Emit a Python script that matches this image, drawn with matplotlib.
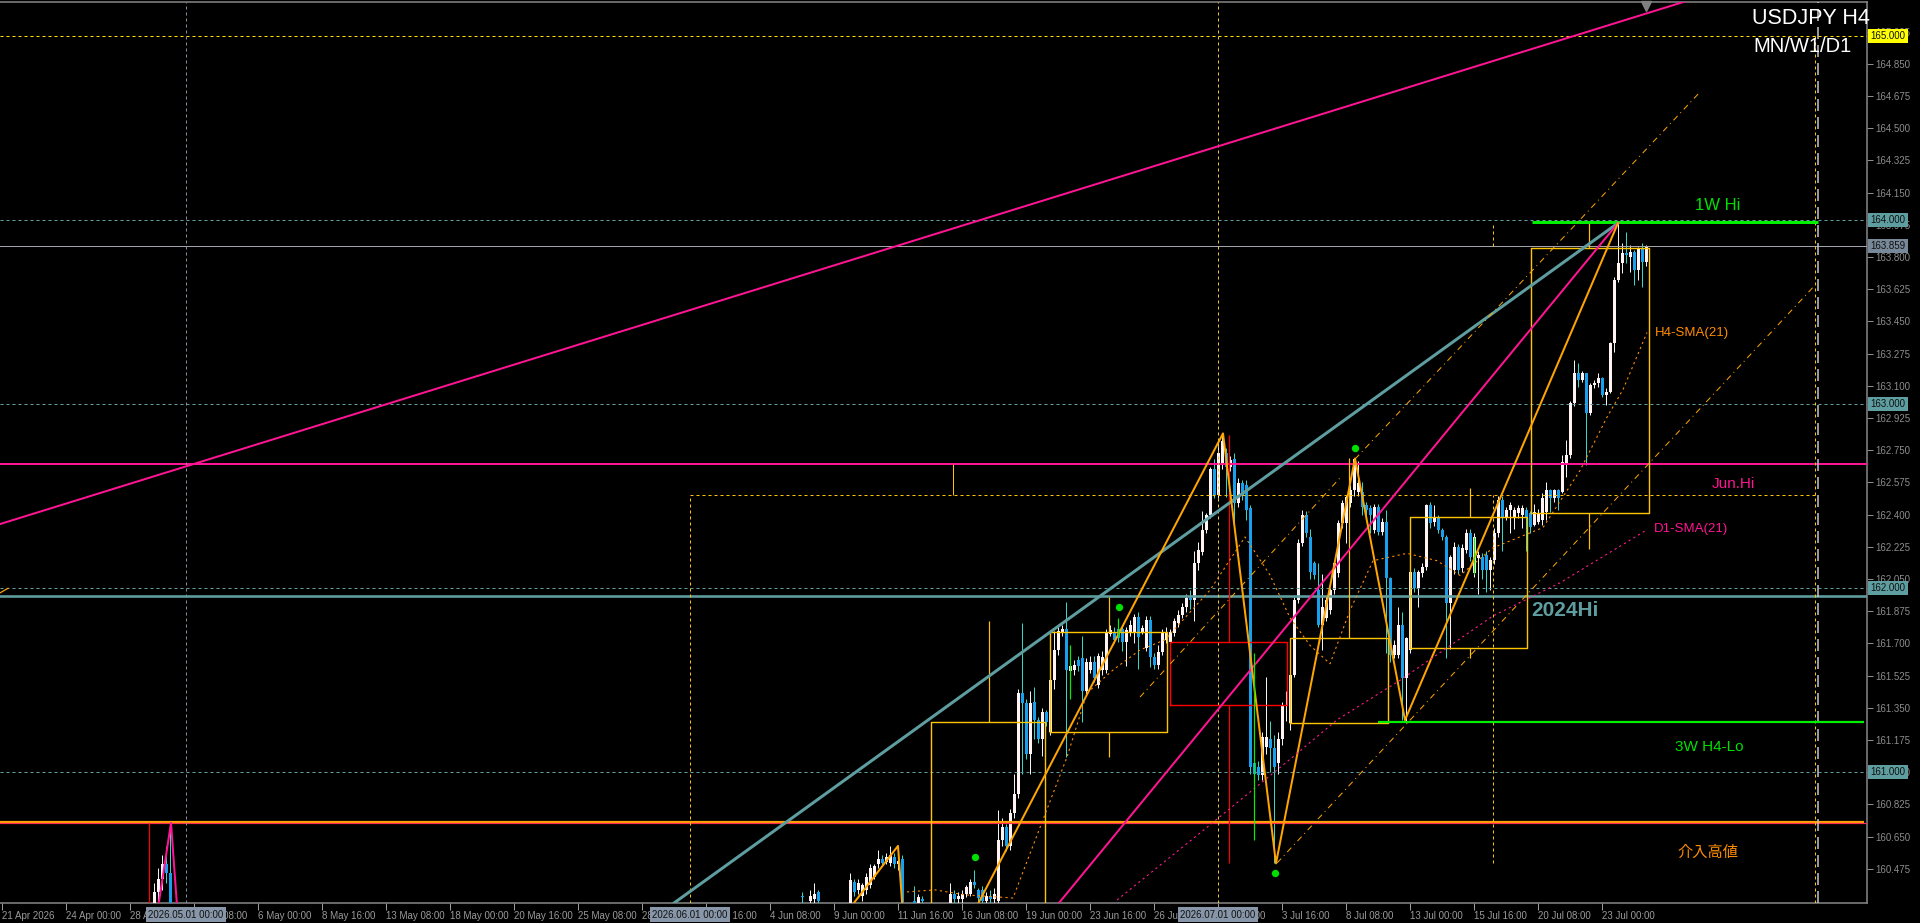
import numpy as np
import matplotlib
matplotlib.use("Agg")
import matplotlib.pyplot as plt
from matplotlib import font_manager

nan = np.nan

# ---------------------------------------------------------------- data
TITLE = "USDJPY H4"
SUBTITLE = "MN/W1/D1"

# H4 candles. bar index 0 = 2026-04-21 00:00; NaN = bar outside the visible price range
spike_start = 40
spike_open = [160.20, 160.35, 160.42, 160.50, 160.45]
spike_high = [160.40, 160.48, 160.55, 160.60, 160.725]
spike_low = [160.10, 160.28, 160.36, 160.40, 160.00]
spike_close = [160.35, 160.42, 160.50, 160.45, 160.10]

main_start = 202
main_open = [
    160.33, nan, 160.30, 160.31, 160.35, nan, nan, nan, nan, nan,                       # 202
    nan, nan, 160.28, 160.405, 160.36, 160.325, 160.36, 160.39, 160.43, 160.50,          # 212
    160.53, 160.515, 160.505, 160.54, 160.50, 160.53, nan, nan, 160.30, 160.29,          # 222
    160.31, nan, nan, nan, nan, nan, nan, 160.29, 160.34, 160.31,                        # 232
    160.31, 160.34, 160.34, 160.405, 160.36, 160.36, 160.30, 160.33, 160.31, 160.30,     # 242
    160.63, 160.70, 160.60, 160.78, 160.88, 161.43, 161.375, 161.10, 161.38, 161.285,    # 252
    161.18, 161.33, 161.22, 161.50, 161.665, 161.765, 161.78, 161.55, 161.556, 161.61,   # 262
    161.62, 161.44, 161.556, 161.60, 161.475, 161.556, 161.556, 161.75, 161.755, 161.78, # 272
    161.78, 161.71, 161.764, 161.764, 161.846, 161.764, 161.674, 161.83, 161.628, 161.583,  # 282
    161.656, 161.72, 161.71, 161.755, 161.81, 161.855, 161.90, 161.945, 161.936, 162.136,   # 292
    162.199, 162.317, 162.398, 162.647, 162.507, 162.679, 162.734, 162.661, 162.70, 162.462, # 302
    162.571, 162.562, 162.435, 161.05, 161.03, 160.985, 161.14, 161.18, 161.13, 161.05,     # 312
    161.18, 161.36, 161.27, 161.53, 161.936, 162.245, 162.398, 162.281, 162.136, 161.991,   # 322
    161.80, 161.837, 161.882, 161.991, 162.081, 162.353, 162.353, 162.462, 162.534, 162.525, # 332
    162.525, 162.453, 162.435, 162.317, 162.444, 162.308, 162.362, 162.054, 161.638, 161.638, # 342
    161.80, 161.511, 161.665, 162.091, 161.999, 162.081, 162.118, 162.453, 162.362, 162.38,  # 352
    162.317, 162.281, 161.918, 162.10, 162.226, 162.109, 162.208, 162.299, 162.081, 162.163, # 362
    162.172, 162.181, 162.10, 162.154, 162.299, 162.48, 162.389, 162.426, 162.389, 162.407,  # 372
    162.398, 162.426, 162.407, 162.344, 162.362, 162.37, 162.416, 162.534, 162.489, 162.534, # 382
    162.525, 162.68, 162.725, 163.005, 163.168, 163.132, 163.168, 162.951, 163.105, 163.114, # 392
    163.141, 163.05, 163.069, 163.331, 163.676, 163.766, 163.82, 163.803, 163.83, 163.73,    # 402
    163.848, 163.775,                                                                        # 412
]
main_high = [
    160.35, nan, 160.36, 160.40, 160.36, nan, nan, nan, nan, nan,
    nan, nan, 160.45, 160.42, 160.42, 160.40, 160.45, 160.50, 160.50, 160.58,
    160.55, 160.56, 160.60, 160.56, 160.60, 160.55, nan, nan, 160.38, 160.34,
    160.33, nan, nan, nan, nan, nan, nan, 160.40, 160.36, 160.35,
    160.36, 160.39, 160.42, 160.47, 160.37, 160.38, 160.35, 160.36, 160.37, 160.795,
    160.75, 160.72, 160.80, 160.99, 161.45, 161.81, 161.40, 161.44, 161.465, 161.30,
    161.35, 161.34, 161.52, 161.77, 161.79, 161.80, 161.927, 161.60, 161.61, 161.63,
    161.74, 161.62, 161.63, 161.63, 161.65, 161.66, 161.78, 161.80, 161.79, 161.82,
    161.80, 161.79, 161.83, 161.86, 161.87, 161.80, 161.85, 161.85, 161.65, 161.69,
    161.78, 161.79, 161.78, 161.84, 161.88, 161.92, 161.97, 161.99, 162.20, 162.25,
    162.42, 162.41, 162.66, 162.70, 162.80, 162.842, 162.76, 162.72, 162.734, 162.60,
    162.59, 162.59, 162.45, 161.10, 161.06, 161.22, 161.52, 161.28, 161.20, 161.22,
    161.38, 161.44, 161.54, 161.955, 162.27, 162.426, 162.42, 162.32, 162.15, 162.136,
    162.08, 161.96, 162.00, 162.15, 162.37, 162.48, 162.507, 162.56, 162.706, 162.69,
    162.58, 162.47, 162.45, 162.46, 162.46, 162.38, 162.426, 162.06, 161.72, 161.90,
    161.87, 161.737, 162.10, 162.11, 162.10, 162.14, 162.46, 162.47, 162.45, 162.40,
    162.33, 162.29, 162.18, 162.25, 162.24, 162.24, 162.32, 162.32, 162.30, 162.20,
    162.19, 162.20, 162.17, 162.33, 162.50, 162.50, 162.44, 162.47, 162.44, 162.45,
    162.45, 162.44, 162.42, 162.46, 162.43, 162.516, 162.58, 162.54, 162.54, 162.54,
    162.725, 162.806, 163.02, 163.24, 163.223, 163.18, 163.168, 163.114, 163.13, 163.168,
    163.15, 163.087, 163.34, 163.694, 163.985, 163.875, 163.938, 163.866, 163.84, 163.857,
    163.875, 163.866,
]
main_low = [
    160.25, nan, 160.25, 160.26, 160.22, nan, nan, nan, nan, nan,
    nan, nan, 160.25, 160.33, 160.34, 160.30, 160.34, 160.37, 160.42, 160.48,
    160.49, 160.50, 160.49, 160.48, 160.47, 160.20, nan, nan, 160.20, 160.25,
    160.26, nan, nan, nan, nan, nan, nan, 160.25, 160.27, 160.28,
    160.28, 160.32, 160.33, 160.37, 160.28, 160.27, 160.28, 160.28, 160.29, 160.28,
    160.60, 160.57, 160.58, 160.75, 160.86, 160.99, 161.07, 160.99, 161.18, 161.16,
    161.09, 161.25, 161.20, 161.45, 161.64, 161.74, 161.085, 161.52, 161.53, 161.55,
    161.275, 161.42, 161.54, 161.49, 161.46, 161.53, 161.54, 161.74, 161.70, 161.71,
    161.66, 161.58, 161.74, 161.70, 161.56, 161.75, 161.66, 161.57, 161.56, 161.56,
    161.64, 161.70, 161.69, 161.74, 161.79, 161.84, 161.87, 161.89, 161.82, 162.10,
    162.18, 162.30, 162.38, 162.49, 162.49, 162.65, 162.498, 162.64, 162.353, 162.44,
    162.48, 162.371, 160.99, 160.95, 160.96, 160.96, 161.10, 161.00, 160.505, 160.99,
    161.15, 161.28, 161.23, 161.52, 161.92, 162.23, 162.28, 162.05, 162.05, 161.79,
    161.665, 161.82, 161.86, 161.97, 162.06, 162.33, 162.245, 162.44, 162.50, 162.50,
    162.40, 162.38, 162.30, 162.30, 162.29, 162.29, 161.65, 161.60, 161.62, 161.62,
    161.284, 161.28, 161.65, 161.98, 161.90, 162.06, 162.10, 162.33, 162.34, 162.30,
    162.26, 161.62, 161.67, 162.08, 162.08, 162.09, 162.19, 162.15, 162.06, 161.97,
    162.05, 161.98, 161.99, 162.13, 162.28, 162.20, 162.37, 162.30, 162.32, 162.38,
    162.33, 162.20, 162.30, 162.34, 162.35, 162.344, 162.37, 162.416, 162.47, 162.425,
    162.52, 162.607, 162.71, 162.99, 163.096, 163.12, 162.67, 162.942, 163.09, 163.096,
    163.04, 162.996, 163.06, 163.286, 163.667, 163.712, 163.766, 163.721, 163.65, 163.676,
    163.64, 163.75,
]
main_close = [
    160.32, nan, 160.33, 160.34, 160.30, nan, nan, nan, nan, nan,
    nan, nan, 160.415, 160.35, 160.40, 160.39, 160.43, 160.48, 160.49, 160.53,
    160.505, 160.54, 160.55, 160.50, 160.52, 160.25, nan, nan, 160.28, 160.32,
    160.30, nan, nan, nan, nan, nan, nan, 160.34, 160.31, 160.33,
    160.34, 160.375, 160.405, 160.385, 160.315, 160.30, 160.33, 160.31, 160.34, 160.63,
    160.70, 160.60, 160.78, 160.88, 161.43, 161.375, 161.10, 161.375, 161.285, 161.18,
    161.33, 161.275, 161.50, 161.665, 161.77, 161.78, 161.556, 161.58, 161.583, 161.575,
    161.44, 161.60, 161.60, 161.51, 161.63, 161.628, 161.755, 161.773, 161.72, 161.73,
    161.71, 161.773, 161.80, 161.846, 161.737, 161.782, 161.828, 161.628, 161.583, 161.656,
    161.755, 161.755, 161.76, 161.82, 161.855, 161.90, 161.945, 161.936, 162.136, 162.208,
    162.317, 162.398, 162.647, 162.507, 162.734, 162.80, 162.661, 162.697, 162.462, 162.571,
    162.507, 162.426, 161.03, 160.99, 160.985, 161.19, 161.19, 161.13, 161.03, 161.18,
    161.36, 161.365, 161.53, 161.936, 162.245, 162.398, 162.299, 162.09, 162.072, 161.80,
    161.90, 161.936, 161.991, 162.136, 162.353, 162.462, 162.498, 162.534, 162.70, 162.571,
    162.444, 162.426, 162.398, 162.444, 162.308, 162.362, 162.054, 161.638, 161.692, 161.80,
    161.511, 161.728, 162.091, 161.999, 162.091, 162.118, 162.453, 162.353, 162.389, 162.317,
    162.281, 161.918, 162.172, 162.226, 162.10, 162.217, 162.299, 162.172, 162.281, 162.181,
    162.10, 162.10, 162.154, 162.299, 162.48, 162.389, 162.426, 162.453, 162.426, 162.435,
    162.435, 162.389, 162.335, 162.416, 162.408, 162.489, 162.534, 162.489, 162.534, 162.489,
    162.688, 162.725, 163.005, 163.168, 163.132, 163.168, 162.951, 163.105, 163.114, 163.141,
    163.05, 163.069, 163.331, 163.676, 163.766, 163.82, 163.811, 163.83, 163.73, 163.848,
    163.775, 163.859,
]

# indicator lines (bar index, price)
h4_sma_idx = [228.25, 235.25, 242.75, 254.75, 268.25, 273.25, 279.75, 286.5, 292.75, 304, 312.75,
              319, 324, 329, 334, 339, 344.75, 353.25, 360.75, 366.5, 374.75, 387.25, 396.5,
              403.25, 407.25, 413.25]
h4_sma_val = [160.350, 160.361, 160.334, 160.317, 161.083, 161.431, 161.556, 161.665, 161.72,
              161.99, 162.279, 162.072, 161.84, 161.69, 161.59, 161.88, 162.15, 162.19, 162.15,
              162.07, 162.22, 162.33, 162.64, 162.93, 163.08, 163.39]
d1_sma_idx = [280.75, 301.5, 324.75, 335.75, 351.5, 374.75, 391.5, 413.25]
d1_sma_val = [160.306, 160.67, 161.084, 161.285, 161.50, 161.85, 162.03, 162.318]

zigzag_idx = [210, 226, 228, 246, 307.25, 320.5, 340.25, 352.75, 406]
zigzag_val = [160.15, 160.60, 160.00, 160.285, 162.842, 160.505, 162.706, 161.284, 163.985]
pink_zig_idx = [40, 44.25, 47]
pink_zig_val = [160.12, 160.725, 159.90]

# trend lines: (idx0, price0, idx1, price1)
pink_long_line = (0, 162.339, 430, 165.238)
teal_trend_line = (160, 160.133, 406, 163.985)
pink_trend_line = (260, 160.125, 406, 163.985)
channel_lines = [(340.25, 162.702, 426.5, 164.697),
                 (320.75, 160.507, 456, 163.665),
                 (286.5, 161.409, 336.5, 162.60)]

# weekly candles drawn as boxes: left, right, open, close, high, low, wick idx
week_left = [234.25, 264, 294, 324, 354, 384.25]
week_right = [262.75, 293.25, 323.25, 348.5, 383.25, 413.75]
week_open = [159.95, 161.22, 161.71, 161.268, 161.676, 162.41]
week_close = [161.273, 161.763, 161.368, 161.73, 162.388, 163.849]
week_high = [161.822, 161.953, 162.834, 162.708, 162.545, 163.985]
week_low = [159.80, 161.084, 160.507, 161.268, 161.622, 162.214]
week_wick = [248.75, 278.75, 308.75, 338.75, 369, 398.75]

# green marks
green_tick_idx = [269, 281, 315, 370]
green_tick_lo = [161.40, 161.737, 160.632, 162.08]
green_tick_hi = [161.69, 161.84, 161.646, 162.28]
green_dot_idx = [245.25, 281.25, 320.25, 340.25]
green_dot_val = [160.541, 161.90, 160.451, 162.76]

# horizontal levels
LVL_165 = 165.000
ROUND_LEVELS = [164.0, 163.0, 162.0, 161.0]
BID = 163.859
HI_1W = 163.99
JUN_HI = 162.675
HI_2024 = 161.96
LO_3W = 161.275
INTERVENTION = 160.731
INTERVENTION_2 = 160.722
JUN_CLOSE = 162.507
JUL_HIGH = 163.985
JUL_LOW = 160.505

# time axis
time_tick_idx = [2, 18, 34, 50, 66, 82, 98, 114, 130, 146, 162, 178, 194, 210, 226, 242,
                 258, 274, 290, 306, 322, 338, 354, 370, 386, 402]
time_tick_labels = ["21 Apr 2026", "24 Apr 00:00", "28 Apr 16:00", "1 May 08:00", "6 May 00:00",
                    "8 May 16:00", "13 May 08:00", "18 May 00:00", "20 May 16:00", "25 May 08:00",
                    "28 May 00:00", "1 Jun 16:00", "4 Jun 08:00", "9 Jun 00:00", "11 Jun 16:00",
                    "16 Jun 08:00", "19 Jun 00:00", "23 Jun 16:00", "26 Jun 08:00", "1 Jul 00:00",
                    "3 Jul 16:00", "8 Jul 08:00", "13 Jul 00:00", "15 Jul 16:00", "20 Jul 08:00",
                    "23 Jul 00:00"]
month_idx = [48, 174, 306]
month_text = ["2026.05.01 00:00", "2026.06.01 00:00", "2026.07.01 00:00"]
month_end_idx = 455.25
next_month_idx = 456

price_ticks = [165.025, 164.850, 164.675, 164.500, 164.325, 164.150, 163.975, 163.800, 163.625,
               163.450, 163.275, 163.100, 162.925, 162.750, 162.575, 162.400, 162.225, 162.050,
               161.875, 161.700, 161.525, 161.350, 161.175, 161.000, 160.825, 160.650, 160.475]
marker_prices = [165.000, 164.000, 163.859, 163.000, 162.000, 161.000]
marker_colors = ["#FFFF00", "#5F9EA0", "#778899", "#5F9EA0", "#5F9EA0", "#5F9EA0"]

# ---------------------------------------------------------------- style
PX = 0.72  # points per pixel at 100 dpi
names = {f.name for f in font_manager.fontManager.ttflist}
SANS = ["Liberation Sans", "DejaVu Sans"]
NARROW = ["Liberation Sans Narrow", "Liberation Sans", "DejaVu Sans"] if "Liberation Sans Narrow" in names else SANS
NARROW_SIZE = 7.6 if "Liberation Sans Narrow" in names else 7.0
CJK = ["Noto Sans CJK JP", "DejaVu Sans"]

BULL_BODY, BULL_WICK = "#FFF3F3", "#F2F2F2"
BEAR_BODY, BEAR_WICK = "#16A0EE", "#35D8C8"
ORANGE, GOLD, PINK, TEAL = "#FFA500", "#FFC400", "#FF1493", "#5F9EA0"
LIME, YELLOW, AXIS_GRAY = "#00F000", "#FFE000", "#8A8A8A"

fig = plt.figure(figsize=(19.2, 9.23), dpi=100, facecolor="black")
ax = fig.add_axes([0, 20 / 923, 1867 / 1920, 901 / 923])
ax.set_facecolor("black")
XMIN, XMAX = 1.5, 468.25
YMIN, YMAX = 160.28967, 165.18641
ax.set_xlim(XMIN, XMAX)
ax.set_ylim(YMIN, YMAX)


def seg(x0, y0, x1, y1, **kw):
    ax.plot([x0, x1], [y0, y1], **kw)


# ----- horizontal levels
ax.axhline(LVL_165, color=YELLOW, lw=PX, ls=(0, (3, 3)), zorder=4)
for lv in ROUND_LEVELS:
    ax.axhline(lv, color=TEAL, lw=PX, ls=(0, (3, 3)), zorder=4)
ax.axhline(BID, color="#A3A3AC", lw=PX, zorder=4)
ax.axhline(JUN_HI, color=PINK, lw=2 * PX, zorder=4)
ax.axhline(HI_2024, color=TEAL, lw=2.6 * PX, zorder=4)
ax.hlines(INTERVENTION, XMIN, 467.5, color=ORANGE, lw=2.2 * PX, zorder=4)
ax.axhline(INTERVENTION_2, color="#FF2A55", lw=1.2 * PX, zorder=4)
ax.hlines(HI_1W, 384.5, next_month_idx, color=LIME, lw=3 * PX, zorder=5)
ax.hlines(LO_3W, 346, 467.5, color=LIME, lw=2.2 * PX, zorder=5)

# ----- monthly candle / separators
ax.axvline(month_idx[0], color="#8090A0", lw=PX, ls=(0, (3, 3)), zorder=4)
ax.axvline(month_idx[2], color="#E8C840", lw=PX, ls=(0, (3, 3)), zorder=4)
ax.vlines(month_idx[1], YMIN, JUN_CLOSE, color=GOLD, lw=PX, ls=(0, (3, 3)), zorder=4)
ax.hlines(JUN_CLOSE, month_idx[1], month_end_idx + 0.5, color=GOLD, lw=PX, ls=(0, (3, 3)), zorder=4)
ax.vlines(239.75, JUN_CLOSE, JUN_HI, color=GOLD, lw=PX, zorder=4)
ax.vlines(374.75, BID, JUL_HIGH, color=GOLD, lw=PX, ls=(0, (3, 3)), zorder=4)
ax.vlines(374.75, JUL_LOW, JUN_CLOSE, color=GOLD, lw=PX, ls=(0, (3, 3)), zorder=4)
ax.vlines(month_end_idx, YMIN, LVL_165, color=GOLD, lw=PX, ls=(0, (3, 3)), zorder=4)
ax.axvline(next_month_idx, color="#C8C8C8", lw=1.5 * PX, ls=(0, (8, 4)), zorder=4)

# ----- weekly boxes
for i in range(len(week_left)):
    bear = week_close[i] < week_open[i]
    col = "#FF0000" if bear else GOLD
    top, bot = max(week_open[i], week_close[i]), min(week_open[i], week_close[i])
    L, R = week_left[i], week_right[i]
    ax.plot([L, R, R, L, L], [bot, bot, top, top, bot], color=col, lw=1.4 * PX, zorder=4)
    ax.vlines(week_wick[i], top, week_high[i], color=col, lw=1.2 * PX, zorder=4)
    ax.vlines(week_wick[i], week_low[i], bot, color=col, lw=1.2 * PX, zorder=4)
ax.vlines(38.75, YMIN, 160.725, color="#FF0000", lw=1.2 * PX, zorder=4)


# ----- candles
def draw_candles(start, o, h, l, c):
    o, h, l, c = (np.array(v, dtype=float) for v in (o, h, l, c))
    idx = start + np.arange(len(o))
    valid = ~np.isnan(o)
    up = valid & (c >= o)
    dn = valid & (c < o)
    ax.vlines(idx[up], l[up], h[up], color=BULL_WICK, lw=PX, zorder=3)
    ax.vlines(idx[dn], l[dn], h[dn], color=BEAR_WICK, lw=PX, zorder=3)
    bot = np.minimum(o, c)
    hgt = np.maximum(np.abs(c - o), 1.0 / 184)
    ax.bar(idx[up], hgt[up], bottom=bot[up], width=0.75, color=BULL_BODY, lw=0, zorder=3.2)
    ax.bar(idx[dn], hgt[dn], bottom=bot[dn], width=0.75, color=BEAR_BODY, lw=0, zorder=3.2)


draw_candles(spike_start, spike_open, spike_high, spike_low, spike_close)
draw_candles(main_start, main_open, main_high, main_low, main_close)

# ----- trend lines
seg(*pink_long_line, color=PINK, lw=2 * PX, zorder=5)
seg(*teal_trend_line, color=TEAL, lw=3 * PX, zorder=5)
seg(*pink_trend_line, color=PINK, lw=2 * PX, zorder=5)
for cl in channel_lines:
    seg(*cl, color=ORANGE, lw=PX, ls=(0, (6, 4, 1, 4)), zorder=5)
ax.plot(zigzag_idx, zigzag_val, color=ORANGE, lw=2 * PX, zorder=5)
ax.plot(pink_zig_idx, pink_zig_val, color=PINK, lw=2 * PX, zorder=5)
ax.plot(h4_sma_idx, h4_sma_val, color="#FF8C00", lw=1.1 * PX, ls=(0, (2, 3)), zorder=5)
ax.plot(d1_sma_idx, d1_sma_val, color="#FF1E8C", lw=1.1 * PX, ls=(0, (2, 3)), zorder=5)
ax.vlines(green_tick_idx, green_tick_lo, green_tick_hi, color=LIME, lw=1.2 * PX, zorder=5)
ax.scatter(green_dot_idx, green_dot_val, s=28, color="#00E000", zorder=6, linewidths=0)
seg(1.5, 161.975, 3.5, 162.0, color=ORANGE, lw=1.2 * PX, zorder=5)
ax.plot([413], [YMAX - 4 / 184], marker="v", ms=7, color="#808080", zorder=6, clip_on=False)

# ----- level labels
ax.text(425.25, 164.083, "1W Hi", color="#00E000", fontsize=12, family=SANS, va="center", zorder=7)
ax.text(429.5, 162.567, "Jun.Hi", color=PINK, fontsize=11, family=SANS, va="center", zorder=7)
ax.text(415.25, 163.389, "H4-SMA(21)", color="#FF8C00", fontsize=9.5, family=SANS, va="center", zorder=7)
ax.text(415.0, 162.322, "D1-SMA(21)", color=PINK, fontsize=9.5, family=SANS, va="center", zorder=7)
ax.text(384.25, 161.877, "2024Hi", color=TEAL, fontsize=15, family=SANS, weight="bold", va="center", zorder=7)
ax.text(420.25, 161.138, "3W H4-Lo", color="#00E000", fontsize=11, family=SANS, va="center", zorder=7)
ax.text(420.75, 160.562, "介入高値", color="#FF8C00", fontsize=11, family=CJK, va="center", zorder=7)

# ----- axes / ticks
ax.spines["left"].set_visible(False)
for s in ("top", "right", "bottom"):
    ax.spines[s].set_color(AXIS_GRAY)
    ax.spines[s].set_linewidth(1.5 * PX)

ax.yaxis.tick_right()
ax.set_yticks(price_ticks)
ax.set_yticklabels([f"{p:.3f}" for p in price_ticks])
ax.tick_params(axis="y", colors="#8C8C8C", length=4, width=PX, pad=2, labelsize=NARROW_SIZE)
ax.set_xticks(time_tick_idx)
ax.set_xticklabels(time_tick_labels, ha="left")
ax.tick_params(axis="x", colors="#9A9A9A", length=5, width=PX, pad=1, labelsize=NARROW_SIZE)
for lbl in ax.get_xticklabels() + ax.get_yticklabels():
    lbl.set_family(NARROW)

ytr = ax.get_yaxis_transform()
for p, col in zip(marker_prices, marker_colors):
    ax.text(1.0019, p, f"{p:.3f}", transform=ytr, color="#101010", fontsize=NARROW_SIZE, family=NARROW,
            ha="left", va="center", zorder=8, clip_on=False,
            bbox=dict(boxstyle="square,pad=0.22", fc=col, ec="none"))

xtr = ax.get_xaxis_transform()
for mi, mt in zip(month_idx, month_text):
    ax.text(mi, -0.0075, mt, transform=xtr, color="#111111", fontsize=NARROW_SIZE, family=NARROW,
            ha="center", va="top", zorder=8, clip_on=False,
            bbox=dict(boxstyle="square,pad=0.25", fc="#8796A8", ec="none"))

fig.text(1752 / 1920, 1 - 18 / 923, TITLE, color="white", fontsize=15.5, family=SANS, va="center", ha="left")
fig.text(1753 / 1920, 1 - 46 / 923, SUBTITLE, color="white", fontsize=14.5, family=SANS, va="center", ha="left")

fig.savefig("out.png", dpi=100, facecolor="black")
